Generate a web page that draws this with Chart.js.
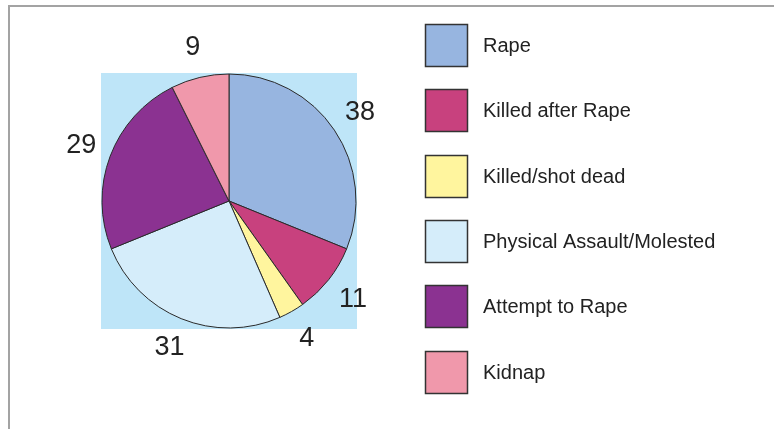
<!DOCTYPE html>
<html>
<head>
<meta charset="utf-8">
<script src="https://cdn.jsdelivr.net/npm/chart.js@4.4.1/dist/chart.umd.min.js"></script>
<style>
  html, body { margin: 0; padding: 0; background: #fff; overflow: hidden; }
  #wrap { position: relative; width: 774px; height: 429px; }
  #frame {
    position: absolute; left: 8px; top: 5px; width: 800px; height: 500px;
    border-top: 2px solid #a3a3a3; border-left: 2px solid #a3a3a3;
    pointer-events: none;
  }
  canvas { position: absolute; left: 0; top: 0; }
</style>
</head>
<body>
<div id="wrap">
  <canvas id="chart" width="774" height="429"></canvas>
  <div id="frame"></div>
</div>
<script>
// values
const categories = [
  'Rape',
  'Killed after Rape',
  'Killed/shot dead',
  'Physical Assault/Molested',
  'Attempt to Rape',
  'Kidnap',
];
const counts = [38, 11, 4, 31, 29, 9];
const sliceColors = ['#97B5E0', '#C8417E', '#FFF59E', '#D5EDFA', '#8B3291', '#F098AB'];

const FONT = "'Liberation Sans', Arial, sans-serif";
const PIE_BG = '#BEE5F8';

// light blue square behind the pie (bounding box of the circle)
const plotBackground = {
  id: 'plotBackground',
  beforeDatasetsDraw(chart) {
    const arc = chart.getDatasetMeta(0).data[0];
    if (!arc) return;
    const { x, y, outerRadius } = arc.getProps(['x', 'y', 'outerRadius'], true);
    const ctx = chart.ctx;
    ctx.save();
    ctx.fillStyle = PIE_BG;
    ctx.fillRect(x - outerRadius - 1, y - outerRadius - 1, outerRadius * 2 + 2, outerRadius * 2 + 2);
    ctx.restore();
  },
};

// value labels sitting outside each slice
const outsideLabels = {
  id: 'outsideLabels',
  afterDatasetsDraw(chart) {
    const ctx = chart.ctx;
    const values = chart.data.datasets[0].data;
    ctx.save();
    ctx.font = `27px ${FONT}`;
    ctx.fillStyle = '#222';
    ctx.textAlign = 'center';
    ctx.textBaseline = 'middle';
    chart.getDatasetMeta(0).data.forEach((arc, i) => {
      const { x, y, startAngle, endAngle, outerRadius } =
        arc.getProps(['x', 'y', 'startAngle', 'endAngle', 'outerRadius'], true);
      const mid = (startAngle + endAngle) / 2;
      const d = outerRadius + 31;
      ctx.fillText(String(values[i]), x + Math.cos(mid) * d, y + Math.sin(mid) * d);
    });
    ctx.restore();
  },
};

// big square swatches on the right
const boxLegend = {
  id: 'boxLegend',
  afterDraw(chart) {
    const ctx = chart.ctx;
    const colors = chart.data.datasets[0].backgroundColor;
    const left = 425, top = 24, size = 42, step = 65.3;
    ctx.save();
    ctx.font = `20px ${FONT}`;
    ctx.textAlign = 'left';
    ctx.textBaseline = 'middle';
    chart.data.labels.forEach((label, i) => {
      const y = Math.round(top + i * step);
      ctx.fillStyle = colors[i];
      ctx.fillRect(left, y, size, size);
      ctx.lineWidth = 1.5;
      ctx.strokeStyle = '#333';
      ctx.strokeRect(left + 0.5, y + 0.5, size, size);
      ctx.fillStyle = '#222';
      ctx.fillText(label, 483, y + size / 2 + 1);
    });
    ctx.restore();
  },
};

new Chart(document.getElementById('chart'), {
  type: 'pie',
  data: {
    labels: categories,
    datasets: [{
      data: counts,
      backgroundColor: sliceColors,
      borderColor: '#2a2a2a',
      borderWidth: 1,
      hoverOffset: 0,
    }],
  },
  options: {
    responsive: false,
    animation: false,
    devicePixelRatio: 1,
    radius: 127,
    layout: { padding: { left: 0, right: 316, top: 0, bottom: 27 } },
    plugins: {
      legend: { display: false },
      tooltip: { enabled: false },
    },
  },
  plugins: [plotBackground, outsideLabels, boxLegend],
});
</script>
</body>
</html>
